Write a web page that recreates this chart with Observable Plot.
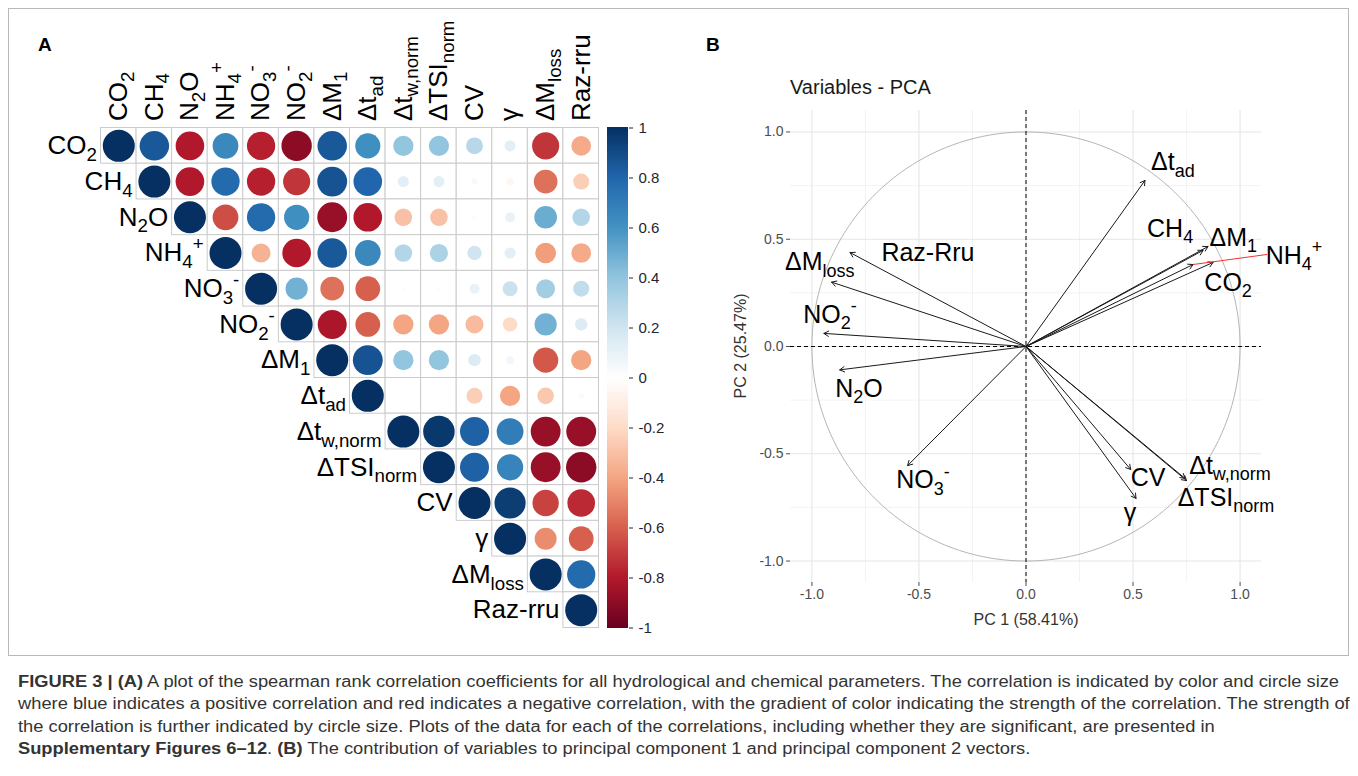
<!DOCTYPE html>
<html>
<head>
<meta charset="utf-8">
<script src="https://cdn.jsdelivr.net/npm/d3@7"></script>
<script src="https://cdn.jsdelivr.net/npm/@observablehq/plot@0.6"></script>
<style>
  html,body{margin:0;padding:0;background:#fff;}
  #fig{position:relative;width:1358px;height:776px;overflow:hidden;font-family:"Liberation Sans",Arial,Helvetica,sans-serif;color:#000;}
  .abs{position:absolute;}
  .abs svg{max-width:none !important;}
  .cap{position:absolute;left:18px;top:671px;font-family:"Liberation Sans Narrow","Arial Narrow","Liberation Sans",Arial,sans-serif;font-size:16px;line-height:22.4px;color:#333;white-space:nowrap;transform-origin:0 0;}
  .cap span.l{display:inline-block;}
</style>
</head>
<body>
<div id="fig"></div>
<script>
// ================= Panel A: Spearman correlation matrix =================
const varKeys = ["CO2","CH4","N2O","NH4","NO3","NO2","dM1","dtad","dtw","dTSI","CV","gamma","dMloss","Raz"];
const varLabelsA = ["CO_{2}","CH_{4}","N_{2}O","NH_{4}^{+}","NO_{3}^{-}","NO_{2}^{-}","ΔM_{1}","Δt_{ad}","Δt_{w,norm}","ΔTSI_{norm}","CV","γ","ΔM_{loss}","Raz-rru"];

// upper-triangle rows, each starting at the diagonal
const corrCO2    = [1, 0.85, -0.8, 0.65, -0.78, -0.9, 0.85, 0.62, 0.4, 0.4, 0.28, 0.12, -0.72, -0.38];
const corrCH4    = [1, -0.8, 0.78, -0.78, -0.72, 0.87, 0.8, 0.12, 0.12, 0.04, -0.05, -0.55, -0.25];
const corrN2O    = [1, -0.65, 0.78, 0.62, -0.87, -0.8, -0.3, -0.3, 0.02, 0.1, 0.5, 0.3];
const corrNH4    = [1, -0.35, -0.8, 0.85, 0.65, 0.3, 0.32, 0.2, 0.12, -0.42, -0.38];
const corrNO3    = [1, 0.48, -0.55, -0.6, -0.02, -0.02, 0.1, 0.22, 0.35, 0.25];
const corrNO2    = [1, -0.82, -0.6, -0.4, -0.4, -0.32, -0.2, 0.48, 0.15];
const corrDM1    = [1, 0.87, 0.4, 0.4, 0.15, 0.06, -0.62, -0.4];
const corrDtad   = [1, 0.01, 0.005, -0.25, -0.4, -0.27, 0.03];
const corrDtw    = [1, 0.97, 0.82, 0.7, -0.87, -0.87];
const corrDTSI   = [1, 0.82, 0.67, -0.87, -0.9];
const corrCV     = [1, 0.95, -0.68, -0.75];
const corrGamma  = [1, -0.47, -0.6];
const corrDMloss = [1, 0.78];
const corrRaz    = [1];
const corrRows = [corrCO2, corrCH4, corrN2O, corrNH4, corrNO3, corrNO2, corrDM1, corrDtad, corrDtw, corrDTSI, corrCV, corrGamma, corrDMloss, corrRaz];

const colorbarTicks = [-1, -0.8, -0.6, -0.4, -0.2, 0, 0.2, 0.4, 0.6, 0.8, 1];
const rdbuColors = ["#67001F","#B2182B","#D6604D","#F4A582","#FDDBC7","#FFFFFF","#D1E5F0","#92C5DE","#4393C3","#2166AC","#053061"];

// ================= Panel B: PCA variables =================
const pcaLabels = ["Δt_{ad}","CH_{4}","ΔM_{1}","NH_{4}^{+}","CO_{2}","ΔM_{loss}","Raz-Rru","NO_{2}^{-}","N_{2}O","NO_{3}^{-}","CV","γ","Δt_{w,norm}","ΔTSI_{norm}"];
const pc1 = [0.556, 0.827, 0.85, 0.78, 0.874, -0.822, -0.908, -0.944, -0.87, -0.553, 0.489, 0.514, 0.743, 0.75];
const pc2 = [0.774, 0.448, 0.466, 0.382, 0.392, 0.438, 0.30, 0.061, -0.109, -0.555, -0.573, -0.708, -0.615, -0.625];
const pcaTicks = [-1, -0.5, 0, 0.5, 1];
const pcaMinorTicks = [-0.75, -0.25, 0.25, 0.75];

// label placement (repel offsets, data units) -- layout, not data
const labelNudgeX = [0.13, -0.154, 0.118, 0.472, 0.07, -0.141, 0.45, 0.028, 0.09, 0.072, 0.081, -0.028, 0.21, 0.184];
const labelNudgeY = [0.084, 0.102, 0.042, 0.042, -0.094, -0.046, 0.134, 0.088, -0.087, -0.069, -0.038, -0.066, 0.06, -0.079];
const nh4LinkNudge = [0.346, 0.047];

// ================= helpers =================
const fig = document.getElementById("fig");
function place(node, left, top, w) {
  const d = document.createElement("div");
  d.className = "abs";
  d.style.left = left + "px"; d.style.top = top + "px"; d.style.width = w + "px";
  d.appendChild(node); fig.appendChild(d); return d;
}
function htmlText(html, css) {
  const d = document.createElement("div");
  d.className = "abs"; d.innerHTML = html;
  Object.assign(d.style, css); fig.appendChild(d); return d;
}
function parseRich(s) {
  const segs = []; let i = 0, buf = "";
  while (i < s.length) {
    const c = s[i];
    if ((c === "_" || c === "^") && s[i + 1] === "{") {
      if (buf) { segs.push({t: buf, k: "n"}); buf = ""; }
      const j = s.indexOf("}", i + 2);
      segs.push({t: s.slice(i + 2, j), k: c === "_" ? "sub" : "sup"});
      i = j + 1;
    } else { buf += c; i++; }
  }
  if (buf) segs.push({t: buf, k: "n"});
  return segs;
}
function richify(root) {
  root.querySelectorAll("text").forEach(el => {
    const s = el.textContent;
    if (!/[_^]\{/.test(s)) return;
    const fs = parseFloat(getComputedStyle(el).fontSize) || 16;
    const segs = parseRich(s);
    el.textContent = "";
    let off = 0;
    segs.forEach(seg => {
      const ts = document.createElementNS("http://www.w3.org/2000/svg", "tspan");
      ts.textContent = seg.t;
      const target = seg.k === "sub" ? 0.26 * fs : seg.k === "sup" ? -0.42 * fs : 0;
      const dy = target - off;
      if (dy) ts.setAttribute("dy", dy.toFixed(2));
      off = target;
      if (seg.k !== "n") ts.setAttribute("font-size", (0.72 * fs).toFixed(2));
      el.appendChild(ts);
    });
  });
}
const baseStyle = {fontFamily: '"Liberation Sans", Arial, Helvetica, sans-serif', background: "transparent", overflow: "visible"};
const colorScale = {type: "linear", domain: colorbarTicks, range: rdbuColors, interpolate: "rgb"};

// frame
htmlText("", {left: "8px", top: "8px", width: "1341px", height: "648px", border: "1px solid #b8b8b8", boxSizing: "border-box"});

// ---------- Panel A ----------
const AW = 690, AH = 660;
const gridL = 100.5, gridR = 598.5, gridT = 127.5, gridB = 627.5;
const cellW = (gridR - gridL) / varKeys.length, cellH = (gridB - gridT) / varKeys.length;
const cells = [];
corrRows.forEach((row, i) => row.forEach((v, k) => cells.push({row: varKeys[i], col: varKeys[i + k], v})));
const labelRows = varKeys.map((key, i) => ({key, label: varLabelsA[i]}));

const plotA = Plot.plot({
  width: AW, height: AH,
  marginLeft: gridL, marginRight: AW - gridR, marginTop: gridT, marginBottom: AH - gridB,
  x: {type: "band", domain: varKeys, padding: 0, round: false, axis: null},
  y: {type: "band", domain: varKeys, padding: 0, round: false, axis: null},
  color: colorScale,
  r: {type: "sqrt", domain: [0, 1], range: [0, 0.45 * cellW]},
  style: baseStyle,
  marks: [
    Plot.cell(cells, {x: "col", y: "row", fill: "white", stroke: "#cbcbcb", strokeWidth: 1}),
    Plot.dot(cells, {x: "col", y: "row", r: d => Math.abs(d.v), fill: "v"}),
    Plot.text(labelRows, {x: "key", y: () => varKeys[0], text: "label", rotate: -90, textAnchor: "start", dy: -(cellH / 2 + 7), fontSize: 26, fill: "#000"}),
    Plot.text(labelRows, {x: "key", y: "key", text: "label", textAnchor: "end", dx: -(cellW / 2 + 4), fontSize: 26, fill: "#000"})
  ]
});
place(plotA, 0, 0, AW);

// colorbar
const CBW = 80, CBH = 560, cbLeft = 600, cbTop = 100;
const barSteps = d3.range(250).map(i => -1 + i * 0.008);
const colorbar = Plot.plot({
  width: CBW, height: CBH,
  marginLeft: 607 - cbLeft, marginRight: CBW - (628 - cbLeft), marginTop: gridT - cbTop, marginBottom: CBH - (gridB - cbTop),
  x: {domain: [0, 1], axis: null},
  y: {domain: [-1, 1], axis: null},
  color: colorScale,
  style: baseStyle,
  marks: [
    Plot.rect(barSteps, {x1: () => 0, x2: () => 1, y1: d => d, y2: d => d + 0.0082, fill: d => d + 0.004, shapeRendering: "crispEdges"}),
    Plot.axisY({anchor: "right", ticks: colorbarTicks, tickFormat: d => String(Math.round(d * 10) / 10), tickSize: 4, tickPadding: 6, fontSize: 15, color: "#1e2433", label: null})
  ]
});
place(colorbar, cbLeft, cbTop, CBW);

// ---------- Panel B ----------
const BW = 668, BH = 660, bLeft = 690;
const pcaRows = pcaLabels.map((label, i) => ({label, x: pc1[i], y: pc2[i], nx: labelNudgeX[i], ny: labelNudgeY[i]}));
const nh4Row = pcaRows.filter(d => d.label === "NH_{4}^{+}");
const circle = d3.range(0, 361, 2).map(a => ({x: Math.cos(a * Math.PI / 180), y: Math.sin(a * Math.PI / 180)}));

const plotB = Plot.plot({
  width: BW, height: BH,
  marginLeft: 790 - bLeft, marginRight: BW - (1261 - bLeft), marginTop: 110, marginBottom: BH - 582,
  x: {domain: [-1.1, 1.1], axis: null},
  y: {domain: [-1.1, 1.1], axis: null},
  style: baseStyle,
  marks: [
    Plot.ruleX(pcaMinorTicks, {stroke: "#eeeeee", strokeWidth: 0.7}),
    Plot.ruleY(pcaMinorTicks, {stroke: "#eeeeee", strokeWidth: 0.7}),
    Plot.ruleX(pcaTicks, {stroke: "#e6e6e6", strokeWidth: 1.1}),
    Plot.ruleY(pcaTicks, {stroke: "#e6e6e6", strokeWidth: 1.1}),
    Plot.line(circle, {x: "x", y: "y", stroke: "#b5b5b5", strokeWidth: 1}),
    Plot.ruleX([0], {stroke: "#000", strokeWidth: 1, strokeDasharray: "4,3"}),
    Plot.ruleY([0], {stroke: "#000", strokeWidth: 1, strokeDasharray: "4,3"}),
    Plot.arrow(pcaRows, {x1: () => 0, y1: () => 0, x2: "x", y2: "y", stroke: "#1a1a1a", strokeWidth: 1, headLength: 8}),
    Plot.link(nh4Row, {x1: "x", y1: "y", x2: d => d.x + nh4LinkNudge[0], y2: d => d.y + nh4LinkNudge[1], stroke: "#f23030", strokeWidth: 1}),
    Plot.text(pcaRows, {x: d => d.x + d.nx, y: d => d.y + d.ny, text: "label", fontSize: 25, fill: "#000"}),
    Plot.axisX({ticks: pcaTicks, tickFormat: d => d.toFixed(1), tickSize: 4, tickPadding: 3, fontSize: 14, color: "#4d4d4d", label: null}),
    Plot.axisY({ticks: pcaTicks, tickFormat: d => d.toFixed(1), tickSize: 4, tickPadding: 3, fontSize: 14, color: "#4d4d4d", label: null})
  ]
});
place(plotB, bLeft, 0, BW);

richify(fig);

// ---------- HTML texts ----------
htmlText("A", {left: "38px", top: "34px", fontSize: "19px", fontWeight: "bold"});
htmlText("B", {left: "706px", top: "34px", fontSize: "19px", fontWeight: "bold"});
htmlText("Variables - PCA", {left: "790px", top: "76px", fontSize: "20px", color: "#1a1a1a"});
htmlText("PC 1 (58.41%)", {left: "926px", top: "611px", width: "200px", textAlign: "center", fontSize: "16px", color: "#333"});
htmlText("PC 2 (25.47%)", {left: "641px", top: "336px", width: "200px", height: "20px", lineHeight: "20px", textAlign: "center", fontSize: "16px", color: "#333", transform: "rotate(-90deg)", transformOrigin: "50% 50%"});

// ---------- Caption ----------
const capLines = [
  "<b>FIGURE 3 | (A)</b> A plot of the spearman rank correlation coefficients for all hydrological and chemical parameters. The correlation is indicated by color and circle size",
  "where blue indicates a positive correlation and red indicates a negative correlation, with the gradient of color indicating the strength of the correlation. The strength of",
  "the correlation is further indicated by circle size. Plots of the data for each of the correlations, including whether they are significant, are presented in",
  "<b>Supplementary Figures 6–12</b>. <b>(B)</b> The contribution of variables to principal component 1 and principal component 2 vectors."
];
const cap = document.createElement("div");
cap.className = "cap";
cap.innerHTML = capLines.map(l => `<span class="l">${l}</span>`).join("<br>");
fig.appendChild(cap);
const w0 = cap.querySelector("span.l").getBoundingClientRect().width;
if (w0 > 0) cap.style.transform = `scaleX(${(1321 / w0).toFixed(4)})`;
</script>
</body>
</html>
